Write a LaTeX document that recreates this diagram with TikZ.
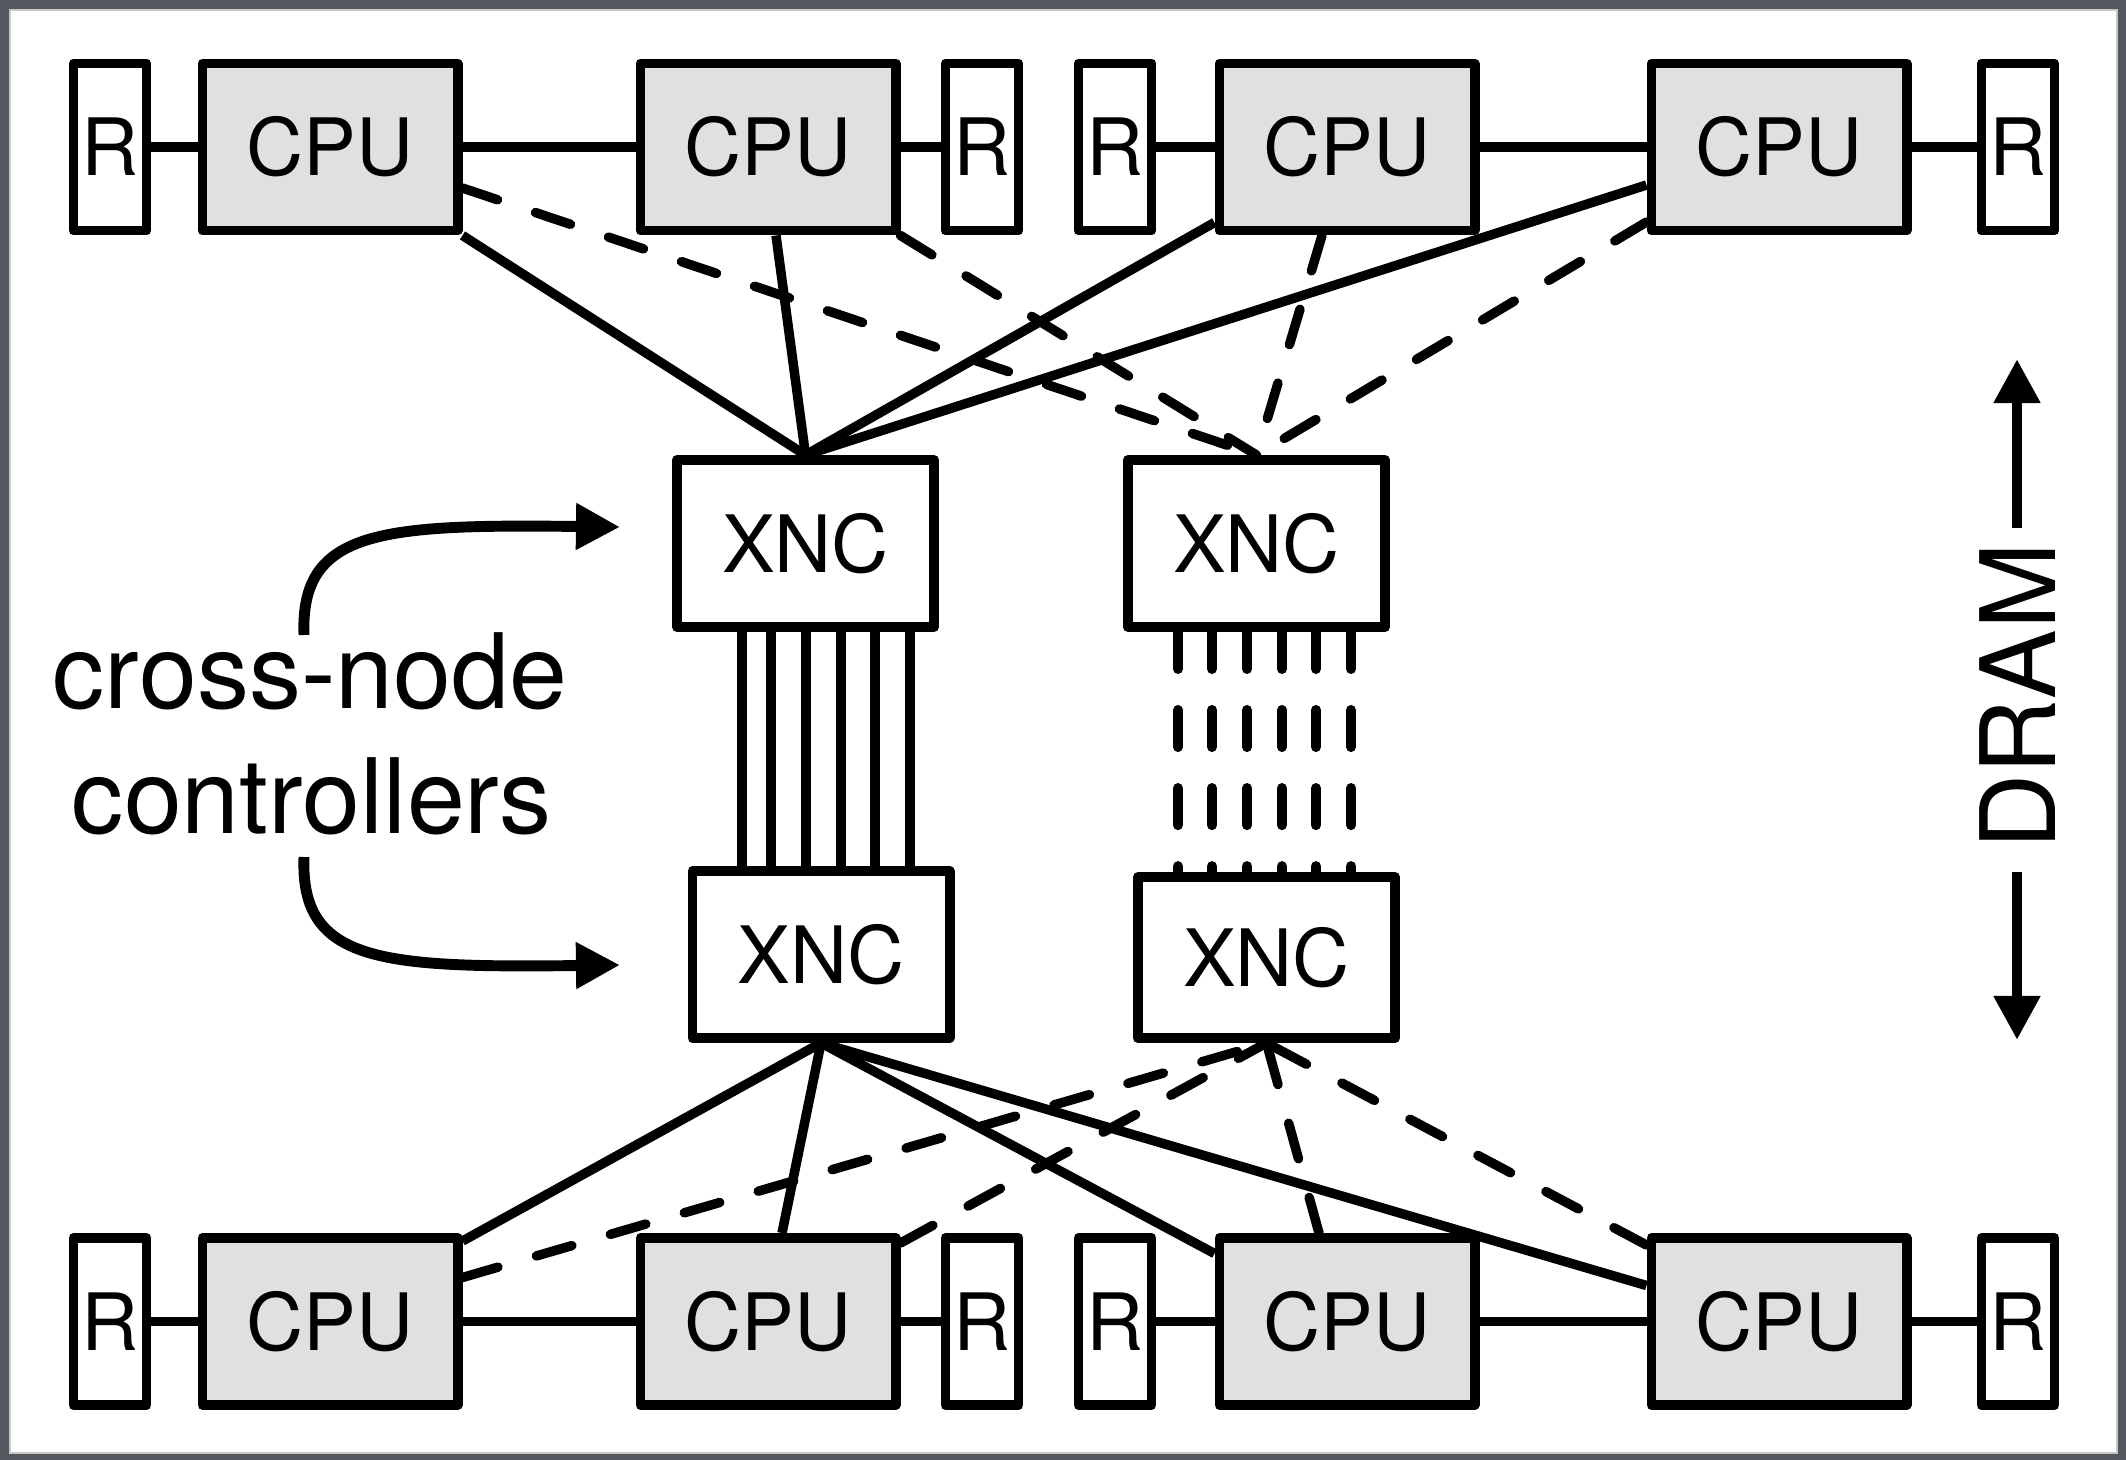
\documentclass[tikz,border=0pt]{standalone}
\usepackage{fontspec}
\setmainfont{TeX Gyre Heros}
\usetikzlibrary{calc,arrows.meta}
\pgfdeclarelayer{framelayer}
\pgfdeclarelayer{linklayer}
\pgfsetlayers{framelayer,linklayer,main}
\definecolor{framegrey}{HTML}{54585E}
\definecolor{cpugrey}{HTML}{E0E0E0}
\definecolor{hairgrey}{HTML}{C8C8C8}
\begin{document}
\begin{tikzpicture}[x=0.01cm,y=-0.01cm,
  box/.style={draw, line width=2.8pt, line join=round, inner sep=0pt,
    minimum height=1.67cm, font=\fontsize{22.5}{27}\selectfont},
  cpubox/.style={box, fill=cpugrey, minimum width=2.55cm},
  rbox/.style={box, fill=white, minimum width=0.73cm},
  xncbox/.style={box, fill=white, minimum width=2.57cm},
  link/.style={line width=2.7pt},
  dlink/.style={line width=2.7pt, line cap=round, dash pattern=on 10.5pt off 11.4pt},
  bus/.style={line width=2.9pt},
  dbus/.style={line width=2.9pt, line cap=round, dash pattern=on 10.5pt off 11.7pt},
  bigfont/.style={font=\fontsize{29.6}{35.6}\selectfont},
  fat/.style={line width=3.1pt, -{Triangle[length=0.44cm,width=0.44cm]}},
]
\useasboundingbox (0,0) rectangle (2126,1460);
\begin{pgfonlayer}{framelayer}
  \fill[framegrey] (0,0) rectangle (2126,1460);
  \fill[white] (10,10) rectangle (2117,1453);
  \draw[hairgrey, line width=0.5pt] (10,10) rectangle (2117,1453);
\end{pgfonlayer}

% top row
\node[rbox]   (tr1) at (110,147)  {R};
\node[cpubox] (tc1) at (330,147)  {CPU};
\node[cpubox] (tc2) at (768,147)  {CPU};
\node[rbox]   (tr2) at (982,147)  {R};
\node[rbox]   (tr3) at (1115,147) {R};
\node[cpubox] (tc3) at (1347,147) {CPU};
\node[cpubox] (tc4) at (1779,147) {CPU};
\node[rbox]   (tr4) at (2018,147) {R};
% bottom row
\node[rbox]   (br1) at (110,1321.5)  {R};
\node[cpubox] (bc1) at (330,1321.5)  {CPU};
\node[cpubox] (bc2) at (768,1321.5)  {CPU};
\node[rbox]   (br2) at (982,1321.5)  {R};
\node[rbox]   (br3) at (1115,1321.5) {R};
\node[cpubox] (bc3) at (1347,1321.5) {CPU};
\node[cpubox] (bc4) at (1779,1321.5) {CPU};
\node[rbox]   (br4) at (2018,1321.5) {R};
% cross-node controllers
\node[xncbox] (xtl) at (805.5,543.5) {XNC};
\node[xncbox] (xtr) at (1256.5,543.5) {XNC};
\node[xncbox] (xbl) at (821,954.5) {XNC};
\node[xncbox, minimum height=1.61cm] (xbr) at (1266.5,957.5) {XNC};

\begin{pgfonlayer}{linklayer}
  % ring links
  \foreach \a/\b in {tr1/tc1,tc1/tc2,tc2/tr2,tr3/tc3,tc3/tc4,tc4/tr4,
                     br1/bc1,bc1/bc2,bc2/br2,br3/bc3,bc3/bc4,bc4/br4}
    \draw[link] (\a.east) -- (\b.west);
  % top: solid to left XNC
  \draw[link] (tc1.south east) -- (xtl.north);
  \draw[link] ($(tc2.south)+(8,0)$) -- (xtl.north);
  \draw[link] ($(tc3.south west)+(0,-13)$) -- (xtl.north);
  \draw[link] ($(tc4.west)+(0,38)$) -- (xtl.north);
  % top: dashed to right XNC
  \draw[dlink] ($(tc1.east)+(0,41)$) -- (xtr.north);
  \draw[dlink] (tc2.south east) -- (xtr.north);
  \draw[dlink] ($(tc3.south)+(-25,0)$) -- (xtr.north);
  \draw[dlink] ($(tc4.west)+(0,75)$) -- (xtr.north);
  % bottom: solid to left XNC
  \draw[link] ($(bc1.north east)+(0,8)$) -- (xbl.south);
  \draw[link] ($(bc2.north)+(14,0)$) -- (xbl.south);
  \draw[link] ($(bc3.west)+(0,-68)$) -- (xbl.south);
  \draw[link] ($(bc4.west)+(0,-36)$) -- (xbl.south);
  % bottom: dashed to right XNC
  \draw[dlink] ($(bc1.east)+(0,-44)$) -- (xbr.south);
  \draw[dlink] ($(bc2.north east)+(0,10)$) -- (xbr.south);
  \draw[dlink] ($(bc3.north)+(-28,0)$) -- (xbr.south);
  \draw[dlink] ($(bc4.north west)+(0,12)$) -- (xbr.south);
  % buses between XNCs
  \foreach \bx in {742,771,806,841,875,910}
    \draw[bus] (\bx,0 |- xtl.south) -- (\bx,0 |- xbl.north);
  \foreach \bx in {1178,1212,1247,1282,1316,1351}
    \draw[dbus] (\bx,0 |- xtr.south) -- (\bx,0 |- xbr.north);
\end{pgfonlayer}

% label and curved arrows
\node[bigfont, anchor=base] (lbl1) at (310,708) {cross-node};
\node[bigfont, anchor=base] (lbl2) at (312,833) {controllers};
\coordinate (cu0) at (304,635);
\coordinate (cu1) at (620,527);
\coordinate (cd0) at (304,857);
\coordinate (cd1) at (620,965);
\draw[fat] (cu0) .. controls (300,530) and (380,524) .. (cu1);
\draw[fat] (cd0) .. controls (300,962) and (380,968) .. (cd1);

% DRAM
\node[bigfont, rotate=90] (dram) at (2017.5,696.5) {DRAM};
\coordinate (du0) at (2017,528);
\coordinate (du1) at (2017,359);
\coordinate (dd0) at (2017,872);
\coordinate (dd1) at (2017,1040);
\draw[fat] (du0) -- (du1);
\draw[fat] (dd0) -- (dd1);
\end{tikzpicture}
\end{document}
